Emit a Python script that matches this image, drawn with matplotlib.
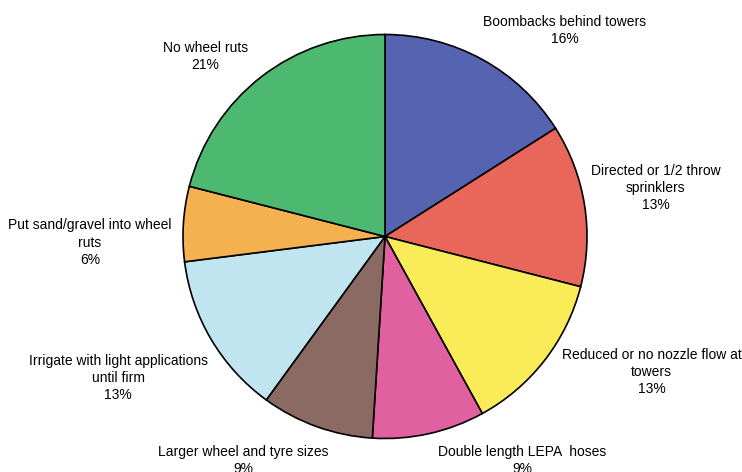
import matplotlib
matplotlib.use("Agg")
import matplotlib.pyplot as plt

# share of responses for each wheel-rut remedy, clockwise from 12 o'clock
labels = ["Boombacks behind towers", "Directed or 1/2 throw\nsprinklers",
          "Reduced or no nozzle flow at\ntowers", "Double length LEPA  hoses",
          "Larger wheel and tyre sizes", "Irrigate with light applications\nuntil firm",
          "Put sand/gravel into wheel\nruts", "No wheel ruts"]
shares = [16, 13, 13, 9, 9, 13, 6, 21]
colors = ["#5563b0", "#e8675a", "#f9ec58", "#e060a0",
          "#8a6a62", "#c0e4f0", "#f5b050", "#4cb870"]

# where each label block sits (centre), in pie-radius units
label_x = [0.89, 1.34, 1.32, 0.68, -0.70, -1.32, -1.46, -0.89]
label_y = [1.02, 0.24, -0.67, -1.11, -1.11, -0.70, -0.03, 0.89]

W, H = 742, 472
cx, cy, r = 385, 236.5, 202

fig = plt.figure(figsize=(W / 100, H / 100), dpi=100)
ax = fig.add_axes([(cx - r) / W, (H - cy - r) / H, 2 * r / W, 2 * r / H])

ax.pie(shares, colors=colors, startangle=90, counterclock=False, radius=1,
       wedgeprops=dict(edgecolor="black", linewidth=1.2))
ax.set_xlim(-1, 1)
ax.set_ylim(-1, 1)
ax.set_aspect("equal")
ax.axis("off")

for lab, val, x, y in zip(labels, shares, label_x, label_y):
    ax.text(x, y, lab + "\n" + str(val) + "%", ha="center", va="center",
            fontsize=10, family="Liberation Sans", color="black",
            linespacing=1.3, clip_on=False)

fig.savefig("out.png", dpi=100)
